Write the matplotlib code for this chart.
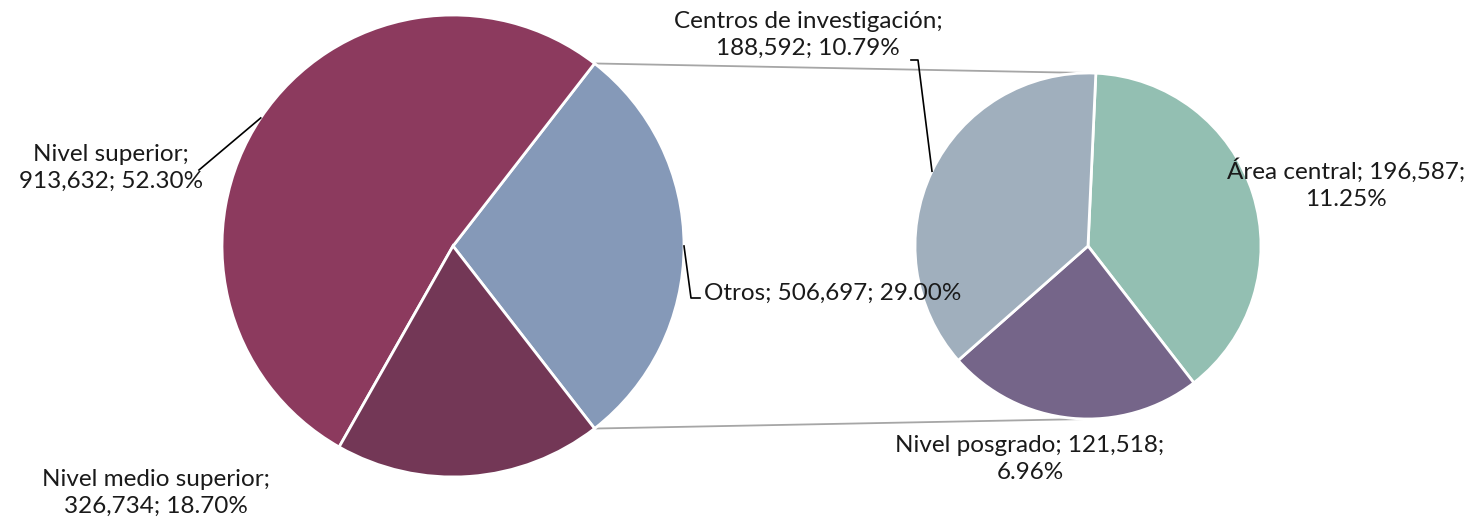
import numpy as np
import matplotlib
matplotlib.use("Agg")
import matplotlib.pyplot as plt

# ---- data ----
main_labels = ["Otros", "Nivel superior", "Nivel medio superior"]
main_values = [506697, 913632, 326734]
main_pcts = ["29.00%", "52.30%", "18.70%"]
main_colors = ["#8599B8", "#8C3A5E", "#733756"]

sub_labels = ["Área central", "Nivel posgrado", "Centros de investigación"]
sub_values = [196587, 121518, 188592]
sub_pcts = ["11.25%", "6.96%", "10.79%"]
sub_colors = ["#93BFB2", "#756589", "#A0AFBD"]

W, H = 1472, 521
plt.rcParams["font.family"] = ["Lato", "DejaVu Sans"]
fig = plt.figure(figsize=(W / 100, H / 100), dpi=100)
ax = fig.add_axes([0, 0, 1, 1])

FS = 17.5

# main pie
c1 = (453, H - 246)
r1 = 231
other_frac = main_values[0] / sum(main_values)
start1 = -other_frac * 360 / 2
w1, _ = ax.pie(main_values, colors=main_colors, startangle=start1, counterclock=True,
               center=c1, radius=r1, frame=True,
               wedgeprops=dict(edgecolor="white", linewidth=2))

# secondary pie
c2 = (1088, H - 246)
r2 = 173
w2, _ = ax.pie(sub_values, colors=sub_colors, startangle=87.4, counterclock=False,
               center=c2, radius=r2, frame=True,
               wedgeprops=dict(edgecolor="white", linewidth=2))
ax.set_xlim(0, W)
ax.set_ylim(0, H)
ax.set_aspect("equal")
ax.axis("off")

# connector lines
t1, t2 = w1[0].theta1, w1[0].theta2
p_top = (c1[0] + r1 * np.cos(np.radians(t2)), c1[1] + r1 * np.sin(np.radians(t2)))
p_bot = (c1[0] + r1 * np.cos(np.radians(t1)), c1[1] + r1 * np.sin(np.radians(t1)))
ax.plot([p_top[0], c2[0]], [p_top[1], c2[1] + r2], color="#A6A6A6", lw=1.3, zorder=0)
ax.plot([p_bot[0], c2[0]], [p_bot[1], c2[1] - r2], color="#A6A6A6", lw=1.3, zorder=0)

def fmt(v):
    return f"{v:,}"

def edge_pt(w, c, r):
    a = np.radians((w.theta1 + w.theta2) / 2)
    return c[0] + r * np.cos(a), c[1] + r * np.sin(a)

txt = dict(fontsize=FS, color="#1a1a1a", linespacing=1.32)

# Otros
ex, ey = edge_pt(w1[0], c1, r1)
ax.plot([ex, 691, 700], [ey, H - 298, H - 298], color="black", lw=1.2)
ax.text(704, H - 293, f"{main_labels[0]}; {fmt(main_values[0])}; {main_pcts[0]}",
        ha="left", va="center", **txt)

# Nivel superior
ex, ey = edge_pt(w1[1], c1, r1)
ax.plot([ex, 199], [ey, H - 170], color="black", lw=1.2)
ax.text(111, H - 168, f"{main_labels[1]};\n{fmt(main_values[1])}; {main_pcts[1]}",
        ha="center", va="center", multialignment="center", **txt)

# Nivel medio superior
ax.text(156, H - 493, f"{main_labels[2]};\n{fmt(main_values[2])}; {main_pcts[2]}",
        ha="center", va="center", multialignment="center", **txt)

# Área central
ax.text(1346, H - 184, f"{sub_labels[0]}; {fmt(sub_values[0])};\n{sub_pcts[0]}",
        ha="center", va="center", multialignment="center", **txt)

# Nivel posgrado
ax.text(1030, H - 459, f"{sub_labels[1]}; {fmt(sub_values[1])};\n{sub_pcts[1]}",
        ha="center", va="center", multialignment="center", **txt)

# Centros de investigación
ex, ey = edge_pt(w2[2], c2, r2)
ax.plot([ex, 918, 911], [ey, H - 60, H - 60], color="black", lw=1.2)
ax.text(808, H - 35, f"{sub_labels[2]};\n{fmt(sub_values[2])}; {sub_pcts[2]}",
        ha="center", va="center", multialignment="center", **txt)

fig.savefig("out.png", dpi=100)
